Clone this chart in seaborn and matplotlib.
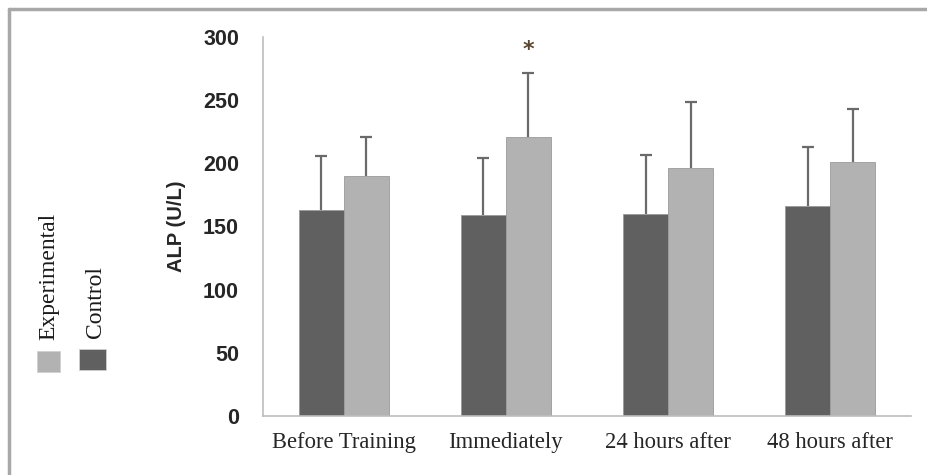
import numpy as np
import pandas as pd
import matplotlib
matplotlib.use("Agg")
import matplotlib.pyplot as plt
from matplotlib.patches import Rectangle
from matplotlib.lines import Line2D
import seaborn as sns

# _____________________________________________
# Data
# _____________________________________________
times = ["Before Training", "Immediately", "24 hours after", "48 hours after"]
groups = ["Control", "Experimental"]
control_mean = [163, 159, 160, 166]
control_sd = [43, 45, 47, 47]
exp_mean = [190, 221, 196, 201]
exp_sd = [31, 51, 53, 42]
star_time = "Immediately"
star_value = 290

colors = {"Control": "#606060", "Experimental": "#b2b2b2"}

df = pd.DataFrame({
    "time": times * 2,
    "group": ["Control"] * 4 + ["Experimental"] * 4,
    "alp": control_mean + exp_mean,
    "sd": control_sd + exp_sd,
})

sns.set_style("white")

fig = plt.figure(figsize=(9.28, 4.75), dpi=100)
ax = fig.add_axes([0.283, 0.125, 0.699, 0.7965])

bar_w = 0.556
sns.barplot(data=df, x="time", y="alp", hue="group", order=times,
            hue_order=groups, palette=colors, width=bar_w, gap=0,
            edgecolor="#9a9a9a", linewidth=0.6, legend=False, ax=ax)

# upper-only error bars
for i, g in enumerate(groups):
    sub = df[df["group"] == g].set_index("time").loc[times]
    offs = (i - 0.5) * bar_w / 2
    xs = np.arange(len(times)) + offs
    eb = ax.errorbar(xs, sub["alp"], yerr=[np.zeros(len(times)), sub["sd"]],
                     fmt="none", ecolor="#6a6a6a", elinewidth=1.6, capsize=4,
                     capthick=1.6, zorder=3)
    eb[1][0].set_visible(False)  # hide the cap sitting on the bar top

# significance star
sx = times.index(star_time) + 0.5 * bar_w / 2
ax.text(sx, star_value, "*", ha="center", va="center", fontsize=16,
        fontweight="bold", color="#5a4630", fontfamily="DejaVu Sans")

ax.set_xlim(-0.5, len(times) - 0.5)
ax.set_ylim(0, 300)
ax.set_yticks(range(0, 301, 50))
ax.set_xlabel("")
ax.set_ylabel("ALP (U/L)", fontsize=14.5, fontweight="bold",
              fontfamily="Liberation Sans", labelpad=12)

for s in ["top", "right"]:
    ax.spines[s].set_visible(False)
for s in ["left", "bottom"]:
    ax.spines[s].set_color("#bdbdbd")
    ax.spines[s].set_linewidth(1.2)

ax.tick_params(axis="y", length=7, width=1.2, color="#bdbdbd", pad=10)
for lab in ax.get_yticklabels():
    lab.set_fontfamily("Liberation Sans")
    lab.set_fontweight("bold")
    lab.set_fontsize(15.5)

ax.set_xticks(np.arange(-0.5, len(times)), minor=True)
ax.tick_params(axis="x", which="major", length=0, pad=12)
ax.tick_params(axis="x", which="minor", length=6, width=1.2, color="#bdbdbd")
for lab in ax.get_xticklabels():
    lab.set_fontfamily("Liberation Serif")
    lab.set_fontsize(16.3)

# frame lines (left and top) of the figure
fig.add_artist(Line2D([9 / 928, 9 / 928], [0, 1 - 9 / 475], color="#a8a8a8", lw=2.5))
fig.add_artist(Line2D([9 / 928, 1], [1 - 9 / 475, 1 - 9 / 475], color="#a8a8a8", lw=2.5))

# vertical legend on the left
W, H = 928, 475
fig.add_artist(Rectangle((37 / W, 1 - 372 / H), 23 / W, 21 / H,
                         facecolor=colors["Experimental"], edgecolor="#d0d0d0", lw=0.6))
fig.add_artist(Rectangle((79 / W, 1 - 370 / H), 27 / W, 21 / H,
                         facecolor=colors["Control"], edgecolor="#d0d0d0", lw=0.6))
fig.text(49 / W, 1 - 340 / H, "Experimental", rotation=90, ha="center", va="bottom",
         fontsize=17, fontfamily="Liberation Serif", color="#1a1a1a")
fig.text(96 / W, 1 - 338 / H, "Control", rotation=90, ha="center", va="bottom",
         fontsize=17, fontfamily="Liberation Serif", color="#1a1a1a")

fig.savefig("out.png", dpi=100, facecolor="white")
